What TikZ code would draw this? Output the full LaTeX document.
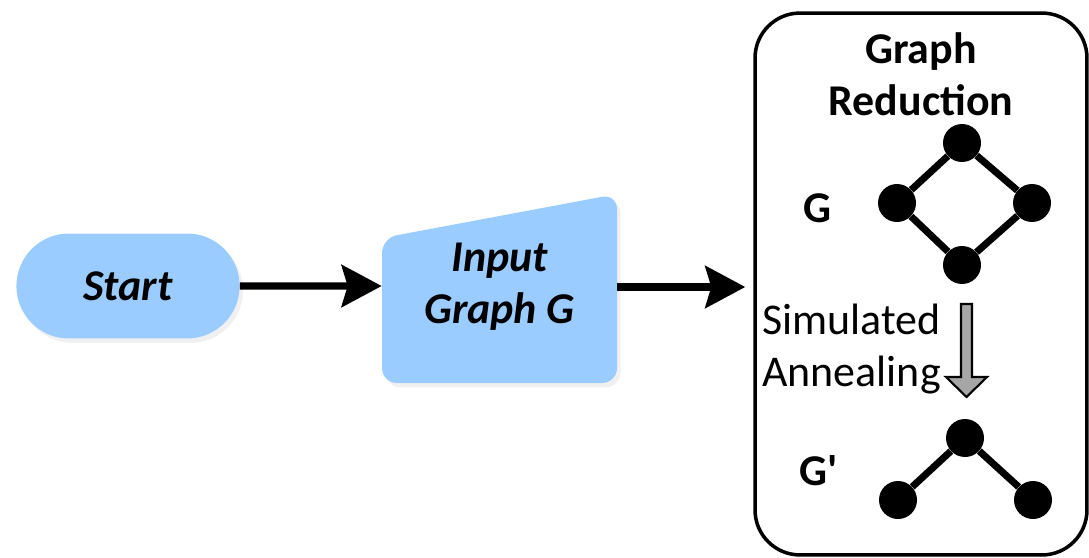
\documentclass[tikz,border=0pt]{standalone}
\usepackage{fontspec}
\setmainfont{Carlito}
\usetikzlibrary{arrows.meta,shapes.misc,shadows}

\definecolor{boxblue}{RGB}{155,204,255}
\definecolor{arrowgray}{RGB}{166,166,166}

\begin{document}
\begin{tikzpicture}[x=0.02cm,y=-0.02cm,
  every node/.style={font=\fontsize{25}{29.5}\selectfont},
  flow/.style={line width=4pt,-{Stealth[length=0.8cm,width=0.84cm,inset=0.12cm]}},
  softshadow/.style={drop shadow={opacity=0.12,shadow xshift=2pt,shadow yshift=-2.5pt}},
  term/.style={rounded rectangle,fill=boxblue,softshadow,minimum width=4.7cm,minimum height=2.1cm,
    font=\fontsize{25}{29.5}\selectfont\bfseries\itshape},
  dot/.style={circle,fill=black,minimum size=0.76cm,inner sep=0pt},
  edge/.style={line width=4pt},
  lbl/.style={font=\fontsize{25}{29.5}\selectfont\bfseries}]
\useasboundingbox (0,0) rectangle (1089,558);
% flow chart
\node[term] (start) at (128,286) {Start};
\fill[boxblue,rounded corners=0.3cm,softshadow] (382,383) -- (382,238) -- (617,194) -- (617,383) -- cycle;
\node[align=center,minimum width=4.7cm,minimum height=3.78cm,
  font=\fontsize{25}{29.5}\selectfont\bfseries\itshape] (inp) at (499.5,287) {Input\\Graph G};
\node[draw,line width=2pt,rounded corners=0.9cm,minimum width=6.64cm,minimum height=10.84cm] (red) at (921,284) {};
\draw[flow] (start) -- (start -| inp.west);
\draw[flow,shorten >=0.16cm] (inp) -- (inp -| red.west);
% graph reduction box
\node[lbl,align=center] (title) at (921,74) {Graph\\Reduction};
\node[lbl] (gl) at (817,208) {G};
\node[lbl] (gpl) at (819,471) {G\textquotesingle};
\node[align=left,anchor=west,inner sep=0pt] (sa) at (762,349) {Simulated\\Annealing};
\filldraw[fill=arrowgray,line width=1.2pt] (961,304) -- (972,304) -- (972,377) -- (987,377)
  -- (966.5,397) -- (946,377) -- (961,377) -- cycle;
\node[dot] (g1) at (962,143) {};
\node[dot] (g2) at (897,203) {};
\node[dot] (g3) at (1032,203) {};
\node[dot] (g4) at (962,265) {};
\draw[edge] (g1) -- (g2);
\draw[edge] (g1) -- (g3);
\draw[edge] (g2) -- (g4);
\draw[edge] (g3) -- (g4);
\node[dot] (h1) at (965,438) {};
\node[dot] (h2) at (898,500) {};
\node[dot] (h3) at (1033,500) {};
\draw[edge] (h1) -- (h2);
\draw[edge] (h1) -- (h3);
\end{tikzpicture}
\end{document}
